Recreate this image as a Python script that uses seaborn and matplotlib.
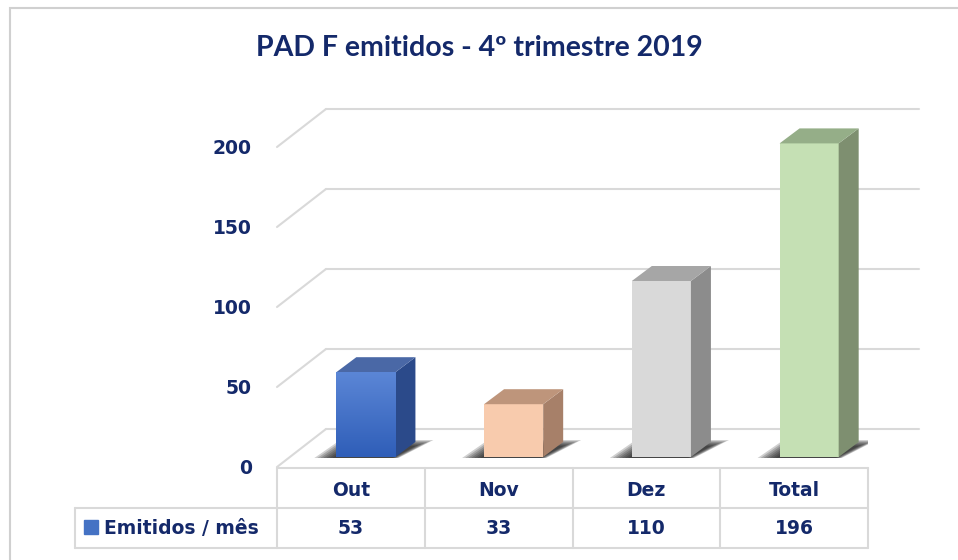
import numpy as np
import seaborn as sns
import matplotlib.pyplot as plt
from matplotlib.patches import Polygon, Rectangle
from matplotlib.colors import LinearSegmentedColormap

# dados
meses = ["Out", "Nov", "Dez", "Total"]
valores = [53, 33, 110, 196]
serie = "Emitidos / mês"
titulo = "PAD F emitidos - 4º trimestre 2019"
ticks_y = [0, 50, 100, 150, 200]

# cores (frente, topo, lado)
frente = ["#4472C4", "#F8CBAD", "#D9D9D9", "#C5E0B4"]
topo = ["#4A68A6", "#BE957B", "#A6A6A6", "#95AE88"]
lado = ["#2B4A8A", "#A78069", "#8C8C8C", "#7E8F70"]
azul = "#14296A"
grade = "#D9D9D9"

sns.set_style("white")
plt.rcParams["font.family"] = ["DejaVu Sans"]

W, H = 958, 560
fig = plt.figure(figsize=(W / 100, H / 100), dpi=100)
# moldura externa
fig.patches.append(Rectangle((10 / W, -0.05), 1.1, 1 - 8 / H + 0.05, transform=fig.transFigure,
                             fill=False, edgecolor="#D0D0D0", lw=1.5))

ax_l, ax_r, ax_b, ax_h = 277, 868, 467, 360
ax = fig.add_axes([ax_l / W, (H - ax_b) / H, (ax_r - ax_l) / W, ax_h / H])
ymax = 225
px_x = 4 / (ax_r - ax_l)   # categorias por pixel
px_y = ymax / ax_h          # valor por pixel

sns.barplot(x=meses, y=valores, hue=meses, palette=frente, width=0.4, legend=False,
            saturation=1, ax=ax, zorder=5)

# profundidade
DX, DY = 49 * px_x, 38 * px_y      # parede
bx, by = 20 * px_x, 15 * px_y      # barra
sx, sy = 15 * px_x, 10 * px_y      # deslocamento da face frontal
x_fim = (919 - ax_l) * px_x - 0.5

# parede e piso
for v in ticks_y:
    ax.plot([-0.5, -0.5 + DX], [v, v + DY], color=grade, lw=1.5, clip_on=False, zorder=1)
    ax.plot([-0.5 + DX, x_fim], [v + DY, v + DY], color=grade, lw=1.5, clip_on=False, zorder=1)

grad = LinearSegmentedColormap.from_list("g", ["#2F5EB8", "#5B86D6"])
for i, p in enumerate(ax.patches[:len(valores)]):
    p.set_x(p.get_x() + sx)
    p.set_y(sy)
    p.set_edgecolor("none")
    x0, w, h = p.get_x(), p.get_width(), p.get_height()
    x1, y0, y1 = x0 + w, sy, sy + h
    # sombra (camadas para simular desfoque)
    for k in range(7):
        e = (6 - k) * 3
        sh = Polygon([(x0 - (22 - e) * px_x, y0 - 1 * px_y), (x1 + (k - 3) * px_x, y0 - 1 * px_y),
                      (x1 + (38 - e) * px_x, y0 + (17 - e / 3) * px_y),
                      (x0 + (4 + e / 2) * px_x, y0 + (17 - e / 3) * px_y)],
                     closed=True, facecolor="#151515", alpha=0.2, edgecolor="none", zorder=3)
        ax.add_patch(sh)
    ax.add_patch(Polygon([(x1, y0), (x1 + bx, y0 + by), (x1 + bx, y1 + by), (x1, y1)],
                         closed=True, facecolor=lado[i], edgecolor="none", zorder=5))
    ax.add_patch(Polygon([(x0, y1), (x1, y1), (x1 + bx, y1 + by), (x0 + bx, y1 + by)],
                         closed=True, facecolor=topo[i], edgecolor="none", zorder=5))
    if i == 0:
        im = ax.imshow(np.linspace(0, 1, 100).reshape(-1, 1), extent=[x0, x1, y0, y1],
                       origin="lower", aspect="auto", cmap=grad, zorder=6)
        im.set_clip_path(p)

ax.set_xlim(-0.5, 3.5)
ax.set_ylim(0, ymax)
sns.despine(ax=ax, left=True, bottom=True)
ax.set_xticks([])
ax.set_yticks(ticks_y)
ax.set_yticklabels([str(t) for t in ticks_y], fontsize=13.5, fontweight="bold", color=azul)
ax.tick_params(axis="y", length=0, pad=18)
ax.set_xlabel("")
ax.set_ylabel("")

# tabela de dados
tr = ax.get_xaxis_transform()
def fy(p):
    return (ax_b - p) / ax_h
x_leg = (75 - ax_l) * px_x - 0.5
y_t, y_m, y_b = fy(468), fy(508), fy(548)
ax.plot([-0.5, 3.5], [y_t, y_t], color=grade, lw=1.5, transform=tr, clip_on=False)
for y in (y_m, y_b):
    ax.plot([x_leg, 3.5], [y, y], color=grade, lw=1.5, transform=tr, clip_on=False)
ax.plot([x_leg, x_leg], [y_m, y_b], color=grade, lw=1.5, transform=tr, clip_on=False)
for xc in np.arange(-0.5, 4.0, 1.0):
    ax.plot([xc, xc], [y_t, y_b], color=grade, lw=1.5, transform=tr, clip_on=False)
for i, (m, v) in enumerate(zip(meses, valores)):
    ax.text(i, fy(491), m, ha="center", va="center", fontsize=13.5, fontweight="bold",
            color=azul, transform=tr)
    ax.text(i, fy(528), str(v), ha="center", va="center", fontsize=13.5, fontweight="bold",
            color=azul, transform=tr)
ax.plot([(91 - ax_l) * px_x - 0.5], [fy(527)], marker="s", ms=9.5, color="#4472C4",
        transform=tr, clip_on=False)
ax.text((104 - ax_l) * px_x - 0.5, fy(528), serie, ha="left", va="center", fontsize=13.5,
        fontweight="bold", color=azul, transform=tr)

fig.text(0.5, 1 - 48 / H, titulo, ha="center", va="center", fontsize=20.5, fontweight="bold",
         color=azul, family=["Lato", "DejaVu Sans"])

fig.savefig("out.png", dpi=100)
